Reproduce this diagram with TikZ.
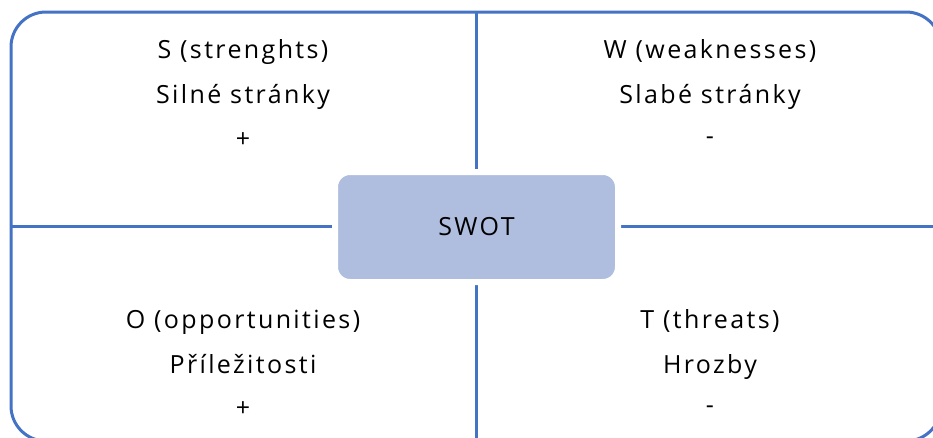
\documentclass[tikz,border=0pt]{standalone}
\usepackage{fontspec}
\setmainfont{Open Sans}[LetterSpace=9.5]
\begin{document}
\begin{tikzpicture}[x=1pt,y=-1pt,
  frame/.style={draw=swotblue,line width=3pt},
  axis/.style={draw=swotblue,line width=3pt},
  hub/.style={fill=swotfill,draw=white,line width=6pt,rounded corners=15pt,
    minimum width=283pt,minimum height=110pt,font=\fontsize{25}{30}\selectfont},
  label/.style={font=\fontsize{25}{30}\selectfont,align=center,inner sep=0pt,anchor=base},
  sign/.style={font=\fontsize{25}{30}\selectfont,inner sep=0pt}]
\definecolor{swotblue}{HTML}{4472C4}
\definecolor{swotfill}{HTML}{AFBDDF}
\useasboundingbox (0,0) rectangle (933,437);
% outer frame, partly cut off by the page edges
\draw[frame,rounded corners=35pt] (11,12) rectangle (941,441);
% dividing lines
\coordinate (top) at (476,12);
\coordinate (bottom) at (476,441);
\coordinate (left) at (11,226);
\coordinate (right) at (941,226);
\draw[axis] (top) -- (bottom);
\draw[axis] (left) -- (right);
% centre
\node[hub] (swot) at (476.5,227) {SWOT};
% quadrant texts
\node[label] (s1) at (243,58) {S (strenghts)};
\node[label] (s2) at (243,103) {Silné stránky};
\node[sign] (s3) at (243,140) {+};
\node[label] (w1) at (710,58) {W (weaknesses)};
\node[label] (w2) at (710,103) {Slabé stránky};
\node[sign] (w3) at (710,141) {-};
\node[label] (o1) at (243,328) {O (opportunities)};
\node[label] (o2) at (243,373) {Příležitosti};
\node[sign] (o3) at (243,409) {+};
\node[label] (t1) at (710,328) {T (threats)};
\node[label] (t2) at (710,373) {Hrozby};
\node[sign] (t3) at (710,410) {-};
\end{tikzpicture}
\end{document}
